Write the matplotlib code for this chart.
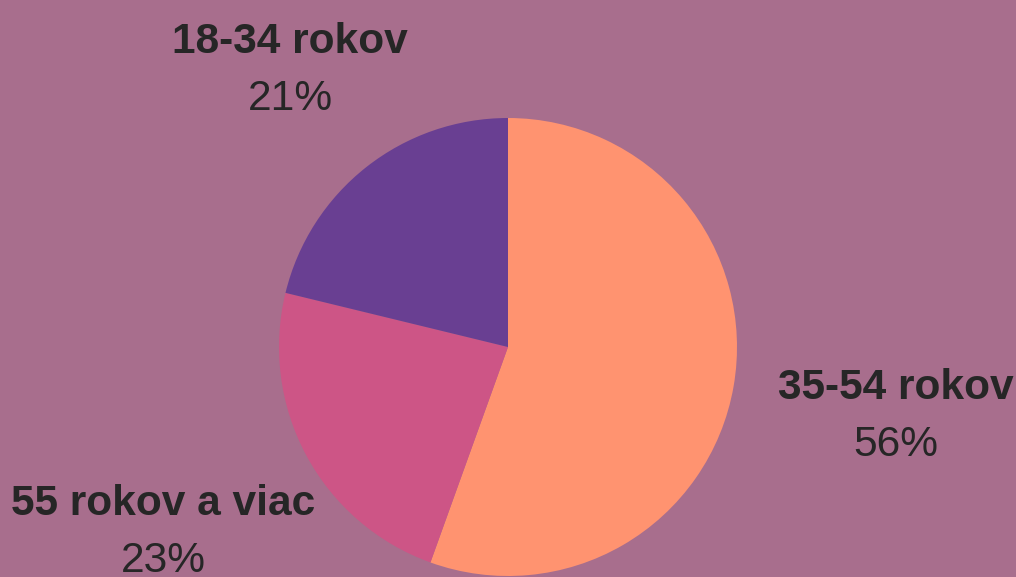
import matplotlib
matplotlib.use("Agg")
import matplotlib.pyplot as plt

categories = ["35-54 rokov", "55 rokov a viac", "18-34 rokov"]
values = [55.5, 23.3, 21.2]
pct_labels = ["56%", "23%", "21%"]
colors = ["#FF9370", "#CD5586", "#693F92"]
bg = "#A86E8D"
txt = "#262626"

W, H = 1016, 577
fig = plt.figure(figsize=(W / 100, H / 100), dpi=100, facecolor=bg)
cx, cy, r = 508, 347, 229
ax = fig.add_axes([(cx - r) / W, (H - cy - r) / H, 2 * r / W, 2 * r / H])
ax.set_facecolor(bg)
ax.pie(values, colors=colors, startangle=90, counterclock=False, radius=1,
       wedgeprops=dict(linewidth=0))
ax.set_xlim(-1, 1)
ax.set_ylim(-1, 1)
ax.set_aspect("equal")
ax.axis("off")

# label positions (pixel centers, bold-line baselines)
label_pos = {"35-54 rokov": (896, 399), "55 rokov a viac": (163, 515), "18-34 rokov": (290, 53)}
for cat, pl in zip(categories, pct_labels):
    x, y = label_pos[cat]
    fig.text(x / W, (H - y) / H, cat, ha="center", va="baseline", fontsize=30.6,
             fontweight="bold", color=txt, family="Liberation Sans")
    fig.text(x / W, (H - y - 57) / H, pl, ha="center", va="baseline", fontsize=30.6,
             color=txt, family="Liberation Sans")

fig.savefig("out.png", dpi=100, facecolor=bg)
